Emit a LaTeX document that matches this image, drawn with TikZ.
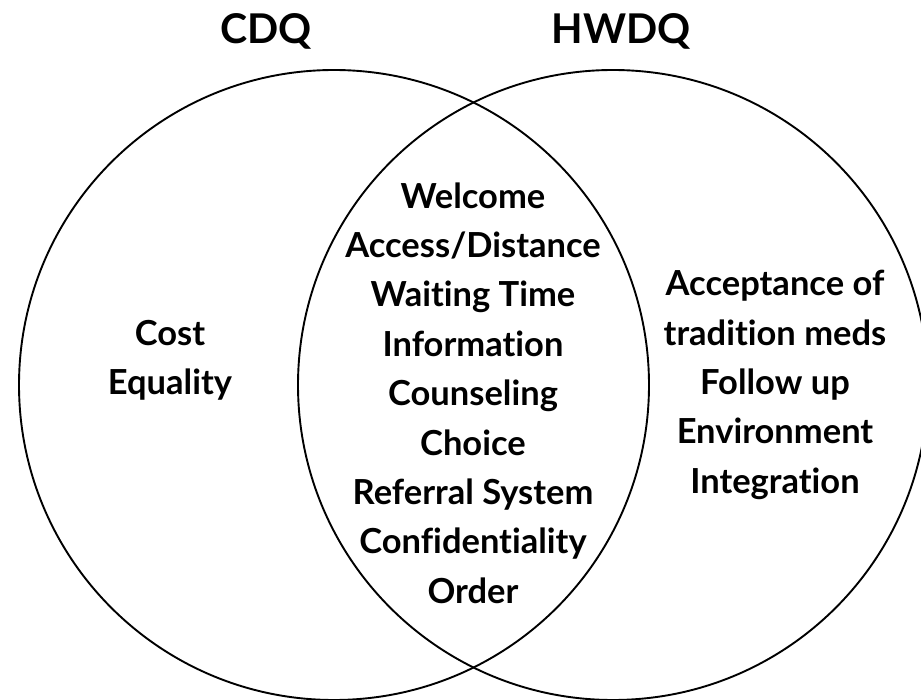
\documentclass[tikz,border=0pt]{standalone}
\usepackage{fontspec}
\setmainfont{Lato}[Ligatures=NoCommon]
\usepackage{tikz}
\usetikzlibrary{positioning}

\begin{document}
\begin{tikzpicture}[x=1pt, y=-1pt,
    set/.style = { draw, shape = circle, line width = 1.9pt, minimum size = 630pt, inner sep = 0pt },
    items/.style = { align = center, inner sep = 0pt, font = \fontsize{34.5}{49.4}\selectfont\bfseries },
    title/.style = { anchor = base, inner sep = 0pt, font = \fontsize{41}{48}\selectfont\bfseries }]
    \useasboundingbox (0,0) rectangle (921,700);
    \clip (0,0) rectangle (921,700);
    % the two sets
    \node [set] (cdq) at (334,385) {};
    \node [set] (hwdq) at (613,385) {};
    \node [title] (cdqtitle) at (266,44) {CDQ};
    \node [title] (hwdqtitle) at (621,44) {HWDQ};
    % what goes in each part
    \node [items] (cdqonly) at (170,360) { Cost \\ Equality };
    \node [items] (shared) at (473,393) { Welcome \\ Access/Distance \\ Waiting Time \\ Information \\ Counseling \\ Choice \\ Referral System \\ Confidentiality \\ Order };
    \node [items] (hwdqonly) at (775,385) { Acceptance of \\ tradition meds \\ Follow up \\ Environment \\ Integration };
\end{tikzpicture}
\end{document}
